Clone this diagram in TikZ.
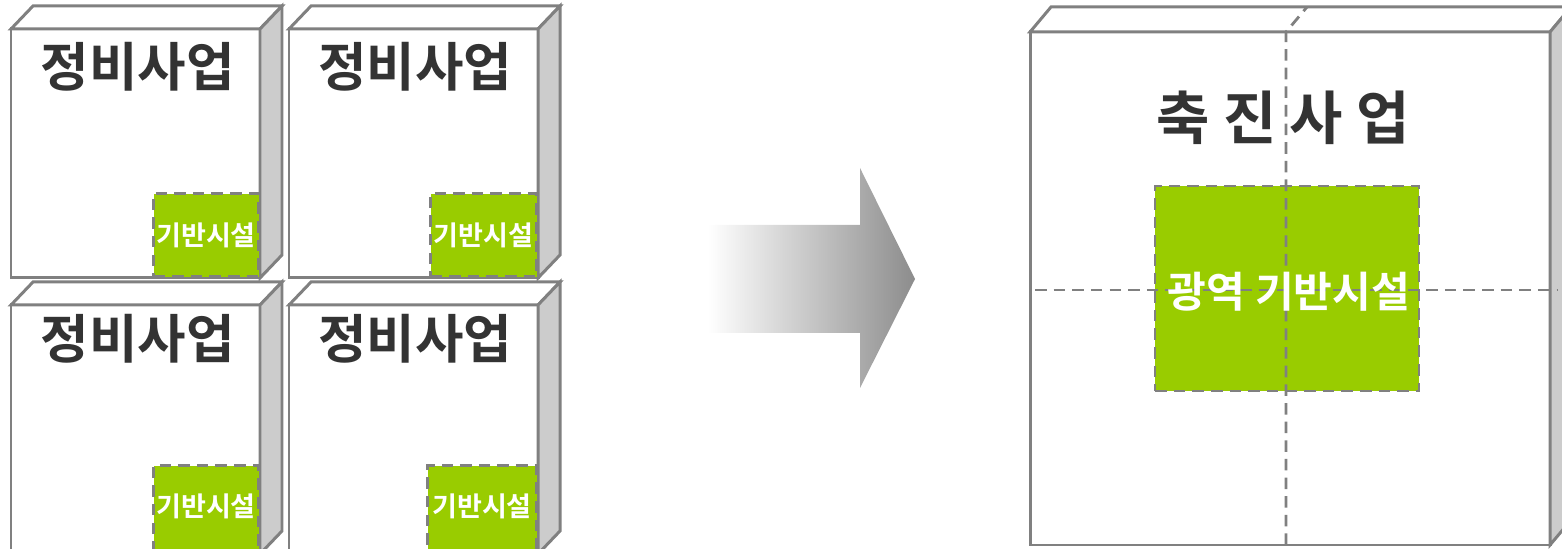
\documentclass[tikz,border=0pt]{standalone}
\usepackage{fontspec}
\setmainfont{Noto Sans CJK KR}[BoldFont={Noto Sans CJK KR Bold}]
\usepackage{xcolor}
\usepackage{tikz}
\usetikzlibrary{positioning,calc}
\definecolor{edge}{HTML}{808080}
\definecolor{side}{HTML}{CCCCCC}
\definecolor{green2}{HTML}{99CC00}
\definecolor{ink}{HTML}{333333}

\begin{document}
\begin{tikzpicture}[
          face/.style={draw=edge,fill=white,line width=0.85pt,line join=miter},
          sideface/.style={draw=edge,fill=side,line width=0.85pt},
          infra/.style={draw=edge,fill=green2,dash pattern=on 3.3pt off 2pt,
                        line width=0.8pt,inner sep=0pt},
          grid/.style={draw=edge,dash pattern=on 3.3pt off 2pt,line width=0.8pt},
          title/.style={font=\fontsize{15}{18}\selectfont\bfseries,text=ink},
          infratext/.style={font=\fontsize{7.7}{9}\selectfont\bfseries,text=white},
      ]
        \clip (0,0) rectangle (15.62,5.49);

        % four single projects
        \begin{scope}[shift={(0.11,2.71)}]
          \draw[face] (0,0) rectangle (2.49,2.49);
          \draw[face] (0,2.49) -- ++(0.22,0.23) -- ++(2.49,0) -- (2.49,2.49) -- cycle;
          \draw[sideface] (2.49,0) -- ++(0.22,0.23) -- ++(0,2.49) -- (2.49,2.49) -- cycle;
          \node[title] (p1) at (1.27,2.11) {정비사업};
          \node[infra,minimum width=1.05cm,minimum height=0.83cm,anchor=south east]
            (f1) at (2.49,0) {};
          \node[infratext] (f1t) at (f1) {기반시설};
        \end{scope}

        \begin{scope}[shift={(2.89,2.71)}]
          \draw[face] (0,0) rectangle (2.49,2.49);
          \draw[face] (0,2.49) -- ++(0.22,0.23) -- ++(2.49,0) -- (2.49,2.49) -- cycle;
          \draw[sideface] (2.49,0) -- ++(0.22,0.23) -- ++(0,2.49) -- (2.49,2.49) -- cycle;
          \node[title] (p2) at (1.26,2.11) {정비사업};
          \node[infra,minimum width=1.06cm,minimum height=0.83cm,anchor=south east]
            (f2) at (2.49,0) {};
          \node[infratext] (f2t) at (f2) {기반시설};
        \end{scope}

        \begin{scope}[shift={(0.11,-0.05)}]
          \draw[face] (0,0) rectangle (2.49,2.49);
          \draw[face] (0,2.49) -- ++(0.22,0.23) -- ++(2.49,0) -- (2.49,2.49) -- cycle;
          \draw[sideface] (2.49,0) -- ++(0.22,0.23) -- ++(0,2.49) -- (2.49,2.49) -- cycle;
          \node[title] (p3) at (1.27,2.15) {정비사업};
          \node[infra,minimum width=1.05cm,minimum height=0.87cm,anchor=south east]
            (f3) at (2.49,0) {};
          \node[infratext] (f3t) at ($(f3)+(0,0.03)$) {기반시설};
        \end{scope}

        \begin{scope}[shift={(2.89,-0.05)}]
          \draw[face] (0,0) rectangle (2.49,2.49);
          \draw[face] (0,2.49) -- ++(0.22,0.23) -- ++(2.49,0) -- (2.49,2.49) -- cycle;
          \draw[sideface] (2.49,0) -- ++(0.22,0.23) -- ++(0,2.49) -- (2.49,2.49) -- cycle;
          \node[title] (p4) at (1.26,2.15) {정비사업};
          \node[infra,minimum width=1.09cm,minimum height=0.87cm,anchor=south east]
            (f4) at (2.49,0) {};
          \node[infratext] (f4t) at ($(f4)+(0,0.03)$) {기반시설};
        \end{scope}

        % transition arrow
        \shade[left color=white,right color=black!45]
          (7.08,2.16) -- (8.60,2.16) -- (8.60,1.61) -- (9.15,2.70)
          -- (8.60,3.81) -- (8.60,3.24) -- (7.08,3.24) -- cycle;

        % promotion project
        \begin{scope}[shift={(10.30,0.04)}]
          \draw[face] (0,0) rectangle (5.20,5.13);
          \draw[face] (0,5.13) -- ++(0.21,0.25) -- ++(5.20,0) -- (5.20,5.13) -- cycle;
          \draw[sideface] (5.20,0) -- ++(0.21,0.25) -- ++(0,5.13) -- (5.20,5.13) -- cycle;
          \node[title,font=\fontsize{16.5}{19}\selectfont\bfseries] (pp) at (2.53,4.27) {축 진 사 업};
          \node[infra,minimum width=2.64cm,minimum height=2.05cm] (wide) at (2.57,2.565) {};
          \draw[grid] (2.56,0) -- (2.56,5.13) -- ++(0.21,0.25);
          \draw[grid] (0.05,2.55) -- (5.28,2.55);
          \node[infratext,font=\fontsize{12}{14}\selectfont\bfseries] (widet) at (2.59,2.53) {광역 기반시설};
        \end{scope}
      \end{tikzpicture}
\end{document}
